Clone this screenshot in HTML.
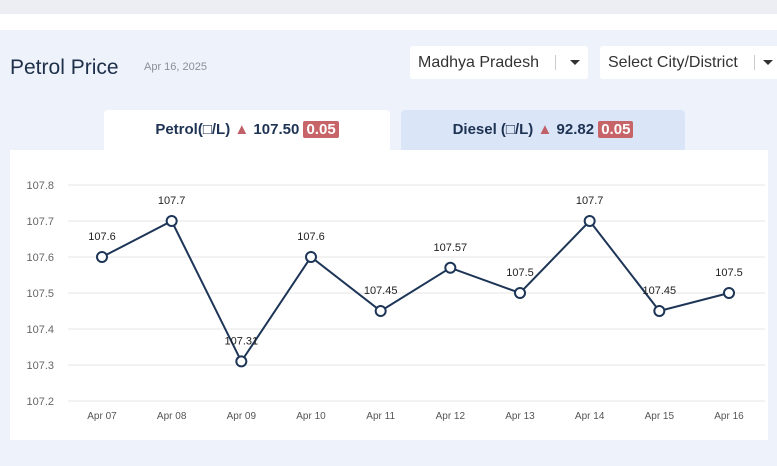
<!DOCTYPE html>
<html><head><meta charset="utf-8"><style>
body{margin:0;width:777px;height:466px;background:#eef2fa;font-family:"Liberation Sans",sans-serif;position:relative;overflow:hidden}
.abs{position:absolute}
</style></head><body>
<div class="abs" style="left:0;top:0;width:777px;height:14px;background:#eceef4"></div>
<div class="abs" style="left:0;top:14px;width:777px;height:16px;background:#fff"></div>
<div class="abs" style="left:10px;top:56px;font-size:21px;color:#1e2f4a">Petrol Price</div>
<div class="abs" style="left:144px;top:61px;font-size:11px;color:#8a8f99">Apr 16, 2025</div>
<div class="abs" style="left:410px;top:46px;width:178px;height:33px;background:#fff;border-radius:3px;font-size:16px;color:#333;line-height:33px"><span style="margin-left:8px">Madhya Pradesh</span><span style="position:absolute;left:145px;top:9px;height:15px;border-left:1px solid #ccc"></span><span style="position:absolute;left:160px;top:14px;border:5px solid transparent;border-top-color:#333"></span></div>
<div class="abs" style="left:600px;top:46px;width:190px;height:33px;background:#fff;border-radius:3px;font-size:16px;color:#333;line-height:33px"><span style="margin-left:8px">Select City/District</span><span style="position:absolute;left:154px;top:9px;height:15px;border-left:1px solid #ccc"></span><span style="position:absolute;left:163px;top:14px;border:5px solid transparent;border-top-color:#333"></span></div>
<div class="abs" style="left:104px;top:110px;width:286px;height:40px;background:#fff;border-radius:4px 4px 0 0;font-size:15px;font-weight:bold;color:#1e3353;line-height:40px;text-align:center">Petrol(□/L) <span style="color:#c06068">▲</span> 107.50 <span style="background:#c76467;color:#fff;padding:0 3px;border-radius:2px">0.05</span></div>
<div class="abs" style="left:401px;top:110px;width:284px;height:40px;background:#dbe5f8;border-radius:4px 4px 0 0;font-size:15px;font-weight:bold;color:#1e3353;line-height:40px;text-align:center">Diesel (□/L) <span style="color:#c06068">▲</span> 92.82 <span style="background:#c76467;color:#fff;padding:0 3px;border-radius:2px">0.05</span></div>
<div class="abs" style="left:10px;top:150px;width:758px;height:290px;background:#fff"></div>
<svg class="abs" style="left:0;top:0" width="777" height="466" id="chart"></svg>
<script>
const categories=["Apr 07","Apr 08","Apr 09","Apr 10","Apr 11","Apr 12","Apr 13","Apr 14","Apr 15","Apr 16"];
const values=[107.6,107.7,107.31,107.6,107.45,107.57,107.5,107.7,107.45,107.5];
const yTicks=[107.2,107.3,107.4,107.5,107.6,107.7,107.8];
const svg=document.getElementById('chart');const NS='http://www.w3.org/2000/svg';
const yMin=107.2,yMax=107.8,y0=401,y1=185;
const y=v=>y0-(v-yMin)/(yMax-yMin)*(y0-y1);
const x=i=>102+i*(729-102)/(categories.length-1);
function mk(t,a,txt){const e=document.createElementNS(NS,t);for(const k in a)e.setAttribute(k,a[k]);if(txt!==undefined)e.textContent=txt;svg.appendChild(e);return e;}
yTicks.forEach(t=>{
 const l=mk('line',{x1:68,x2:765,y1:y(t),y2:y(t),stroke:'#e6e6e6'});
 
 
 const tx=mk('text',{x:54,y:y(t)+4,'text-anchor':'end','font-size':11,fill:'#666','font-family':'Liberation Sans'},t.toFixed(1));
 
 
});
categories.forEach((c,i)=>{
 const tx=mk('text',{x:x(i),y:419,'text-anchor':'middle','font-size':10,fill:'#555','font-family':'Liberation Sans'},c);
 
 
});
const pl=mk('polyline',{points:values.map((v,i)=>x(i)+','+y(v)).join(' '),fill:'none',stroke:'#1d3557','stroke-width':2});


values.forEach((v,i)=>{
 const c=mk('circle',{cx:x(i),cy:y(v),r:5,fill:'#fff',stroke:'#1d3557','stroke-width':2});
 
 
 const t=mk('text',{x:x(i),y:y(v)-17,'text-anchor':'middle','font-size':11,fill:'#222','font-family':'Liberation Sans'},String(v));
 
 
});
</script>
</body></html>
